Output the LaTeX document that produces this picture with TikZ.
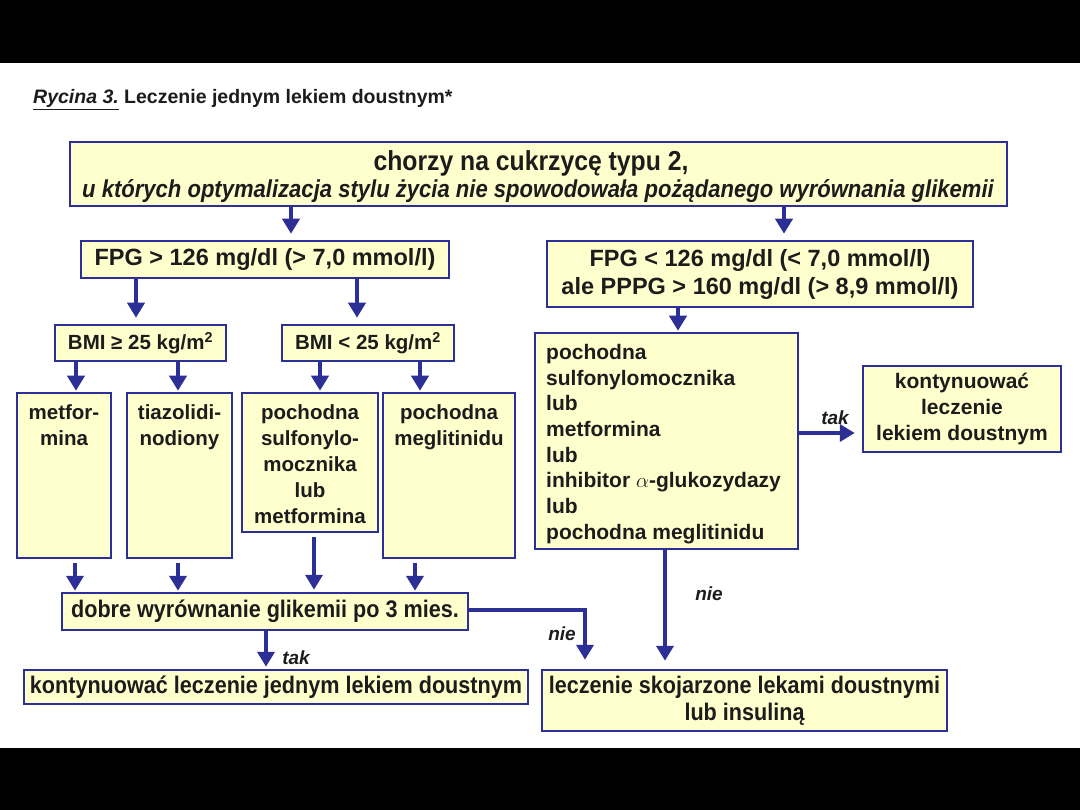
\documentclass[tikz,border=0pt]{standalone}
\usepackage{fontspec}
\setmainfont{Liberation Sans}
\newfontfamily\nar[FakeStretch=0.9]{Liberation Sans}
\usetikzlibrary{arrows.meta,calc}
\definecolor{bfill}{RGB}{255,255,206}
\definecolor{bline}{RGB}{44,48,150}
\definecolor{tcol}{RGB}{28,28,28}
\newcommand{\bx}[6][]{\node[box,#1,minimum width={#4-#2},minimum height={#5-#3}] (#6) at ({(#2+#4)/2},{(#3+#5)/2})}
\begin{document}
\begin{tikzpicture}[x=1pt,y=-1pt,
  box/.style={draw=bline,fill=bfill,line width=2.5pt,inner sep=0pt,rectangle,text=tcol},
  txt/.style={inner sep=0pt,text=tcol},
  fB/.style={font=\bfseries\fontsize{20.5}{26}\selectfont},
  fL/.style={font=\bfseries\fontsize{21}{25.7}\selectfont},
  fN/.style={font=\nar\bfseries\fontsize{24}{27}\selectfont},
  lab/.style={inner sep=0pt,text=tcol,font=\bfseries\itshape\fontsize{19}{22}\selectfont},
  arr/.style={draw=bline,line width=4pt,-{Triangle[length=15pt,width=17pt]}},
  ln/.style={draw=bline,line width=4pt}]
\fill[black] (0,0) rectangle (1080,810);
\fill[white] (0,63) rectangle (1080,748);
\useasboundingbox (0,0) rectangle (1080,810);

% title
\node[txt,anchor=base west,font=\bfseries\fontsize{19.5}{22}\selectfont] (title) at (33,104)
  {\underline{\textit{Rycina 3.}} Leczenie jednym lekiem doustnym*};

% boxes
\bx{70}{142}{1007}{206}{top}{};
\node[txt,font=\nar\bfseries\fontsize{27.5}{30}\selectfont] (topA) at (531,163) {chorzy na cukrzycę typu 2,};
\node[txt,font=\nar\bfseries\itshape\fontsize{24.5}{27}\selectfont] (topB) at (538,191) {u których optymalizacja stylu życia nie spowodowała pożądanego wyrównania glikemii};

\bx[font=\bfseries\fontsize{23.5}{27}\selectfont]{81}{241}{449}{278}{fpgA}{FPG > 126 mg/dl (> 7,0 mmol/l)};
\bx[align=center,font=\bfseries\fontsize{23.5}{28}\selectfont]{547}{241}{973}{307}{fpgB}{FPG < 126 mg/dl (< 7,0 mmol/l)\\ale PPPG > 160 mg/dl (> 8,9 mmol/l)};

\bx[fB]{55}{325}{226}{361}{bmiA}{BMI ≥ 25 kg/m\textsuperscript{2}};
\bx[fB]{282}{325}{454}{361}{bmiB}{BMI < 25 kg/m\textsuperscript{2}};

\bx{17}{393}{111}{558}{met}{};
\node[txt,fB,align=center,anchor=north] (metT) at (64,404) {metfor-\\mina};
\bx{127}{393}{232}{558}{tia}{};
\node[txt,fB,align=center,anchor=north] (tiaT) at (179.5,404) {tiazolidi-\\nodiony};
\bx{242}{393}{378}{532}{sul}{};
\node[txt,fB,align=center,anchor=north] (sulT) at (310,404) {pochodna\\sulfonylo-\\mocznika\\lub\\metformina};
\bx{383}{393}{515}{558}{meg}{};
\node[txt,fB,align=center,anchor=north] (megT) at (449,404) {pochodna\\meglitinidu};

\bx{535}{333}{798}{549}{lst}{};
\node[txt,fL,align=left,anchor=north west] (lstT) at (546,344)
  {pochodna\\sulfonylomocznika\\lub\\metformina\\lub\\inhibitor $\alpha$-glukozydazy\\lub\\pochodna meglitinidu};

\bx[fL,align=center]{863}{366}{1061}{452}{kon}{kontynuować\\leczenie\\lekiem doustnym};

\bx[fN]{62}{593}{468}{630}{dob}{dobre wyrównanie glikemii po 3 mies.};
\bx[fN]{24}{670}{528}{704}{konA}{kontynuować leczenie jednym lekiem doustnym};
\bx[fN,align=center]{542}{670}{947}{731}{sko}{leczenie skojarzone lekami doustnymi\\lub insuliną};

% x positions
\coordinate (x291) at (291,0);
\coordinate (x784) at (784,0);
\coordinate (x136) at (136,0);
\coordinate (x357) at (357,0);
\coordinate (x678) at (678,0);
\coordinate (x76) at (76,0);
\coordinate (x178) at (178,0);
\coordinate (x320) at (320,0);
\coordinate (x420) at (420,0);
\coordinate (x75) at (75,0);
\coordinate (x314) at (314,0);
\coordinate (x415) at (415,0);
\coordinate (x266) at (266,0);
\coordinate (x665) at (665,0);
\coordinate (x585) at (585,0);
\coordinate (y433) at (0,433);
\coordinate (y610) at (0,610);

% connectors
\draw[arr,shorten >=6pt] (top.south -| x291) -- (fpgA.north -| x291);
\draw[arr,shorten >=6pt] (top.south -| x784) -- (fpgB.north -| x784);
\draw[arr,shorten >=6pt] (fpgA.south -| x136) -- (bmiA.north -| x136);
\draw[arr,shorten >=6pt] (fpgA.south -| x357) -- (bmiB.north -| x357);
\draw[arr,shorten >=1pt] (fpgB.south -| x678) -- (lst.north -| x678);
\draw[arr,shorten >=1pt] (bmiA.south -| x76) -- (met.north -| x76);
\draw[arr,shorten >=1pt] (bmiA.south -| x178) -- (tia.north -| x178);
\draw[arr,shorten >=1pt] (bmiB.south -| x320) -- (sul.north -| x320);
\draw[arr,shorten >=1pt] (bmiB.south -| x420) -- (meg.north -| x420);
\draw[arr,shorten <=4pt,shorten >=1pt] (met.south -| x75) -- (dob.north -| x75);
\draw[arr,shorten <=4pt,shorten >=1pt] (tia.south -| x178) -- (dob.north -| x178);
\draw[arr,shorten <=4pt,shorten >=2pt] (sul.south -| x314) -- (dob.north -| x314);
\draw[arr,shorten <=4pt,shorten >=1pt] (meg.south -| x415) -- (dob.north -| x415);
\draw[arr,shorten >=7pt] (lst.east |- y433) -- (kon.west |- y433);
\draw[arr,shorten >=2pt] (dob.south -| x266) -- (konA.north -| x266);
\draw[arr,shorten >=9pt] (dob.east |- y610) -| (sko.north -| x585);
\draw[arr,shorten >=8pt] (lst.south -| x665) -- (sko.north -| x665);

% labels
\node[lab] (takA) at (835,418) {tak};
\node[lab] (takB) at (296,658) {tak};
\node[lab] (nieA) at (562,634) {nie};
\node[lab] (nieB) at (709,594) {nie};
\end{tikzpicture}
\end{document}
